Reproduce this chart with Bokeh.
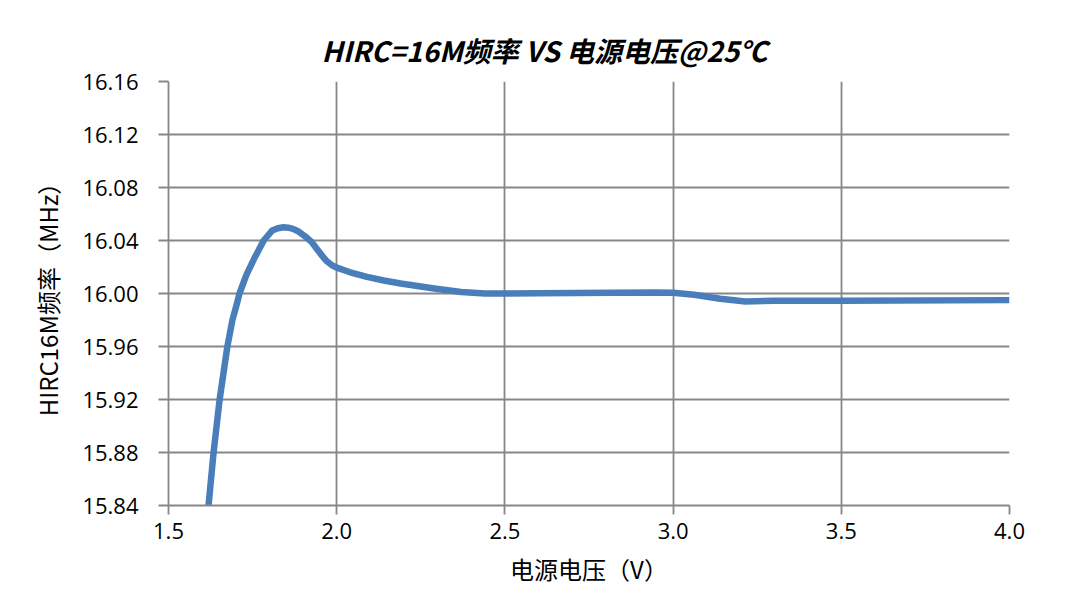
from bokeh.plotting import figure
from bokeh.models import FixedTicker, NumeralTickFormatter, Range1d
from bokeh.embed import file_html
from bokeh.resources import INLINE

# data
voltage = [1.619, 1.634, 1.652, 1.664, 1.675, 1.690, 1.702, 1.711, 1.731, 1.754,
           1.783, 1.808, 1.825, 1.842, 1.856, 1.870, 1.885, 1.907, 1.925,
           1.940, 1.955, 1.970, 1.985, 2.000, 2.040, 2.090, 2.140, 2.190, 2.290,
           2.370, 2.440, 2.600, 2.820, 2.950, 3.000, 3.063, 3.140, 3.215, 3.300,
           3.500, 4.000]
freq = [15.840, 15.880, 15.920, 15.941, 15.960, 15.980, 15.991, 16.000, 16.0136, 16.026,
        16.040, 16.0475, 16.0492, 16.050, 16.0497, 16.0488, 16.047, 16.043, 16.039,
        16.034, 16.029, 16.0245, 16.0215, 16.0195, 16.016, 16.0125, 16.0098, 16.0075, 16.0038,
        16.0012, 16.000, 16.0002, 16.0005, 16.0008, 16.0005, 15.999, 15.996, 15.994, 15.9945,
        15.9945, 15.995]

x_ticks = [1.5, 2.0, 2.5, 3.0, 3.5, 4.0]
y_ticks = [15.84, 15.88, 15.92, 15.96, 16.00, 16.04, 16.08, 16.12, 16.16]

title_text = "HIRC=16M频率 VS 电源电压@25℃"
x_label = "电源电压（V）"
y_label = "HIRC16M频率（MHz）"

GRID = "#878787"
LINE = "#4A7EBB"
CJK = "Noto Sans CJK SC"
LAT = "Open Sans"

p = figure(frame_width=841, frame_height=424,
           min_border_left=168, min_border_top=81, min_border_right=57, min_border_bottom=87,
           x_range=Range1d(1.5, 4.0), y_range=Range1d(15.84, 16.16),
           output_backend="svg", toolbar_location=None)
p.outline_line_color = None
p.background_fill_color = "white"
p.border_fill_color = "white"

p.title.text = title_text
p.title.align = "left"
p.title.offset = 153
p.title.text_font = CJK
p.title.text_font_size = "28px"
p.title.text_font_style = "bold italic"
p.title.text_color = "#000000"
p.title.standoff = 23

p.line(voltage, freq, line_color=LINE, line_width=6.5, line_join="round", line_cap="butt")

for ax, ticks, fmt in ((p.xaxis[0], x_ticks, "0.0"), (p.yaxis[0], y_ticks, "0.00")):
    ax.ticker = FixedTicker(ticks=ticks)
    ax.formatter = NumeralTickFormatter(format=fmt)
    ax.axis_line_color = GRID
    ax.axis_line_width = 1.8
    ax.major_tick_line_color = GRID
    ax.major_tick_line_width = 1.8
    ax.major_tick_in = 0
    ax.minor_tick_line_color = None
    ax.major_label_text_font = LAT
    ax.major_label_text_font_size = "22px"
    ax.major_label_text_color = "#000000"
    ax.axis_label_text_font = CJK
    ax.axis_label_text_font_size = "24px"
    ax.axis_label_text_font_style = "normal"
    ax.axis_label_text_color = "#000000"

p.xaxis.major_tick_out = 9
p.xaxis.major_label_standoff = 8
p.xaxis.axis_label = x_label
p.xaxis.axis_label_standoff = 9

p.yaxis.major_tick_out = 10
p.yaxis.major_label_standoff = 20
p.yaxis.axis_label = y_label
p.yaxis.axis_label_standoff = 14

p.xgrid.ticker = FixedTicker(ticks=x_ticks)
p.ygrid.ticker = FixedTicker(ticks=y_ticks)
for g in (p.xgrid[0], p.ygrid[0]):
    g.grid_line_color = GRID
    g.grid_line_width = 1.8

open("out.html", "w").write(file_html(p, INLINE))
